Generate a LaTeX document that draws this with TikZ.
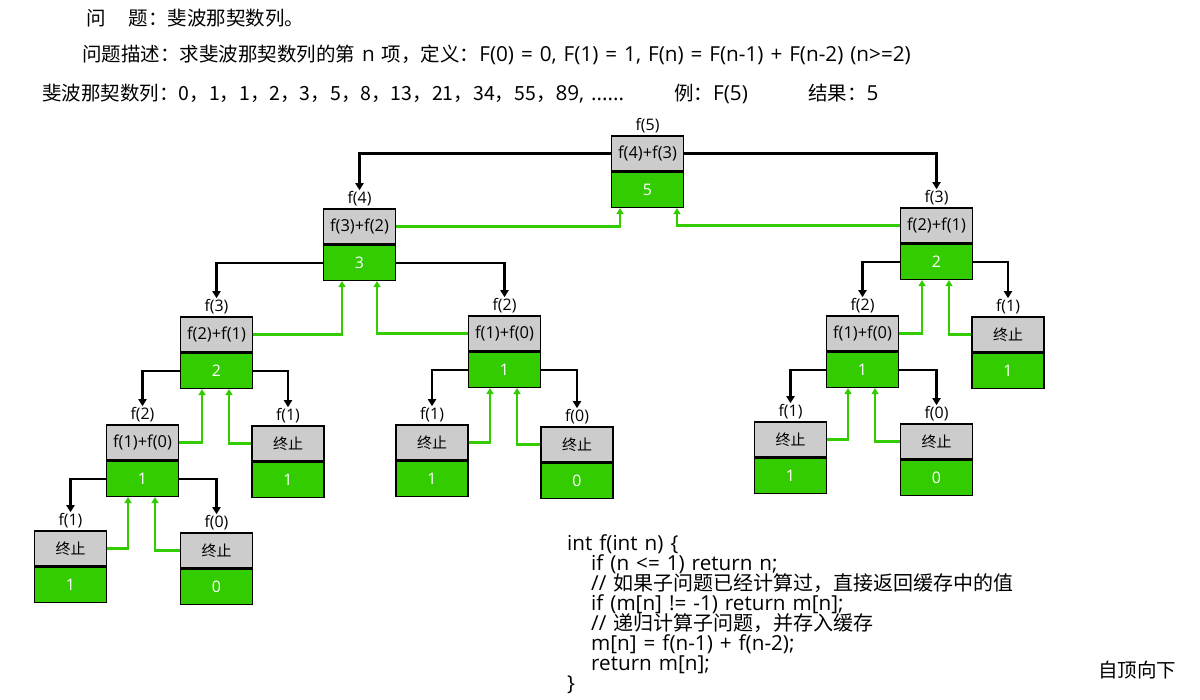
\documentclass[tikz,border=0pt]{standalone}
\usepackage{fontspec}
\newfontfamily\cjk{Noto Sans CJK SC}
\newfontfamily\lat{Open Sans}[Scale=1.06, WordSpace=1.3]
\usetikzlibrary{positioning,arrows.meta}
\definecolor{okgreen}{HTML}{33CC00}
\definecolor{boxgray}{HTML}{CCCCCC}
\newcommand\tightlines{\lineskiplimit=-20pt\relax}
\newcommand\fx[1]{{\lat\fontsize{15.5}{18}\selectfont #1}}

\begin{document}
\begin{tikzpicture}[x=1pt,y=-1pt,font=\cjk]
\tikzstyle{upper} = [draw, line width=1.4pt, fill=boxgray, minimum width=72pt, minimum height=35pt, inner sep=0, font=\cjk\fontsize{15}{18}\selectfont]
\tikzstyle{lower} = [upper, fill=okgreen, text=white, font=\lat\fontsize{15}{18}\selectfont]
\tikzstyle{fname} = [inner sep=1pt, font=\lat\fontsize{15}{18}\selectfont]
\tikzstyle{call} = [line width=2.2pt, -{Triangle[length=7pt,width=8pt]}]
\tikzstyle{back} = [okgreen, line width=2.2pt, -{Triangle[length=6pt,width=7pt]}]
\tikzstyle{txt} = [inner sep=0, anchor=base west, font=\cjk\fontsize{19.5}{20}\selectfont\tightlines]

\useasboundingbox (0,0) rectangle (1200,700);

% Testo in alto
\node[txt] (tit) at (86,26) {问\hspace{23pt}题：斐波那契数列。};
\node[txt] (desc) at (82,62) {问题描述：求斐波那契数列的第{\lat\ n }项，定义：{\lat F(0) = 0, F(1) = 1, F(n) = F(n-1) + F(n-2) (n>=2)}};
\node[txt] (seq) at (42,101) {斐波那契数列：0，1，1，2，3，5，8，13，21，34，55，{\lat 89, ......}};
\node[txt] (ex) at (674,101) {例：{\lat F(5)}};
\node[txt] (res) at (808,101) {结果：{\lat 5}};

% Nodi
\foreach \nm/\x/\y/\expr/\val/\lab in {
  f5/647.5/153.5/\fx{f(4)+f(3)}/5/f(5),
  f4/359.5/226.5/\fx{f(3)+f(2)}/3/f(4),
  f3b/936.5/225.5/\fx{f(2)+f(1)}/2/f(3),
  f3a/216.5/334.5/\fx{f(2)+f(1)}/2/f(3),
  f2b/504.5/333.5/\fx{f(1)+f(0)}/1/f(2),
  f2c/862.5/333.5/\fx{f(1)+f(0)}/1/f(2),
  f1c/1008/334.5/终止/1/f(1),
  f2a/142.5/442.5/\fx{f(1)+f(0)}/1/f(2),
  f1b/288/443.5/终止/1/f(1),
  f1d/432/442.5/终止/1/f(1),
  f0d/577/444.5/终止/0/f(0),
  f1e/790.5/439.5/终止/1/f(1),
  f0e/936.5/441.5/终止/0/f(0),
  f1a/70.5/548.5/终止/1/f(1),
  f0a/216.5/550.5/终止/0/f(0)} {
  \node[upper] (\nm-t) at (\x,\y) {\expr};
  \node[lower, below=0pt of \nm-t] (\nm-b) {\val};
  \node[fname, above=1pt of \nm-t] (\nm-l) {\lab};
}

% Chiamate e ritorni, figlio sinistro
\foreach \up/\s/\dn/\dx in {f5/t/f4/-27.5, f4/b/f3a/-17.5, f3b/b/f2c/-14.5, f3a/b/f2a/-14.5,
  f2b/b/f1d/-14.5, f2c/b/f1e/-14.5, f2a/b/f1a/-14.5} {
  \draw[call] (\up-\s.west) -| (\dn-l.north);
  \draw[back] (\dn-t.east) -| ([xshift=\dx pt]\up-b.south);
}

% Chiamate e ritorni, figlio destro
\foreach \up/\s/\dn/\dx in {f5/t/f3b/29.5, f4/b/f2b/17.5, f3b/b/f1c/12.5, f3a/b/f1b/12.5,
  f2b/b/f0d/12.5, f2c/b/f0e/12.5, f2a/b/f0a/12.5} {
  \draw[call] (\up-\s.east) -| (\dn-l.north);
  \draw[back] (\dn-t.west) -| ([xshift=\dx pt]\up-b.south);
}

% Codice
\node[txt, align=left, font=\lat\fontsize{19.5}{20}\selectfont\tightlines] (code) at (567,690) {int f(int n) \{\\
\hspace*{24pt}if (n <= 1) return n;\\
\hspace*{24pt}// {\cjk\fontsize{20}{20}\selectfont 如果子问题已经计算过，直接返回缓存中的值}\\
\hspace*{24pt}if (m[n] != -1) return m[n];\\
\hspace*{24pt}// {\cjk\fontsize{20}{20}\selectfont 递归计算子问题，并存入缓存}\\
\hspace*{24pt}m[n] = f(n-1) + f(n-2);\\
\hspace*{24pt}return m[n];\\
\}};
\node[txt] (mode) at (1098,677) {自顶向下};

\end{tikzpicture}
\end{document}
